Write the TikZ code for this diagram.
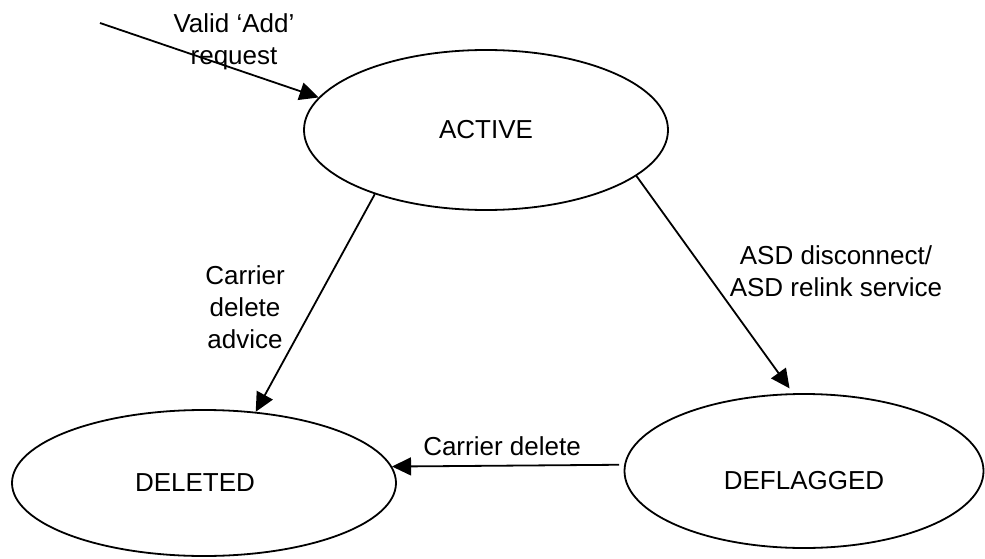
\documentclass[tikz,border=0pt]{standalone}
\usepackage{fontspec}
\setmainfont{Liberation Sans}
\usetikzlibrary{arrows.meta, shapes.geometric}
\tikzset{
  state/.style={
    ellipse,
    draw,
    line width=1.8pt,
    inner sep=0pt,
    align=center
  },
  edgelabel/.style={
    align=center,
    inner sep=0pt
  },
  arrow/.style={-{Triangle[length=19pt,width=18pt]}, line width=1.8pt}
}

\begin{document}
\begin{tikzpicture}[x=1pt, y=-1pt, font=\fontsize{26}{32}\selectfont]
  \useasboundingbox (0,0) rectangle (985,559);

  \node[state, minimum width=364pt, minimum height=160pt] (active) at (486,130) {ACTIVE};
  \node[state, minimum width=384pt, minimum height=146pt] (deleted) at (204,483)
       {DELETED\hspace*{18pt}};
  \node[state, minimum width=359pt, minimum height=154pt, text height=37pt] (deflagged) at (804,471)
       {DEFLAGGED};

  \coordinate (entry) at (100,23);

  \draw[arrow] (entry) -- (active.169.9);
  \draw[arrow] (active.210.4) -- (deleted.54.3);
  \draw[arrow, shorten >=6pt] (active.343.7) -- (deflagged.98.1);
  \draw[arrow, shorten <=5pt] (deflagged.178) -- (deleted.5.5);

  \node[edgelabel] (addlabel) at (234,42) {Valid ‘Add’\\request};
  \node[edgelabel] (advicelabel) at (245,307) {Carrier\\delete\\advice};
  \node[edgelabel] (asdlabel) at (836,271) {ASD disconnect/\\ASD relink service};
  \node[edgelabel] (deletelabel) at (502,446) {Carrier delete};
\end{tikzpicture}
\end{document}
